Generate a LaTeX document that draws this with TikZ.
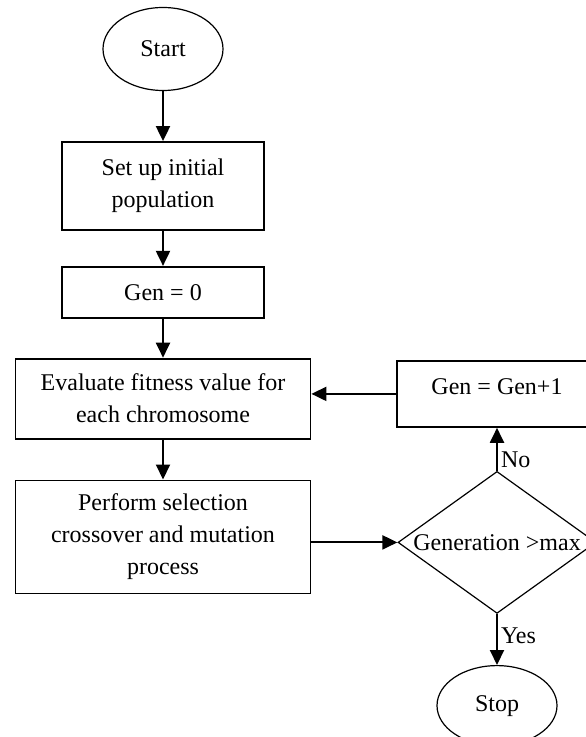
\documentclass[tikz,border=0pt]{standalone}
\usepackage{fontspec}
\setmainfont{Liberation Serif}
\usetikzlibrary{arrows.meta,positioning,shapes.geometric}

\begin{document}
\begin{tikzpicture}[->,>={Triangle[length=7.5pt,width=7pt]},line width=1pt,
  every node/.style={font=\fontsize{12}{16}\selectfont,align=center},
  term node/.style={ellipse,draw,line width=0.6pt,inner sep=0pt,minimum width=60pt,minimum height=41.5pt},
  box node/.style={rectangle,draw,line width=0.9pt,inner sep=0pt,minimum width=101pt},
  dec node/.style={diamond,draw,line width=0.6pt,inner sep=0pt,minimum width=99pt,minimum height=71pt}]

  \useasboundingbox (0,0) rectangle (292.5pt,-368.5pt);

  \node[term node] (start) at (81.5pt,-24.5pt) {Start};
  \node[box node,minimum height=44pt] (init) [below=25pt of start] {Set up initial\\population};
  \node[box node,minimum height=25.5pt] (gen0) [below=17.5pt of init] {Gen = 0};
  \node[box node,minimum width=147.5pt,minimum height=40pt] (eval) [below=19.5pt of gen0] {Evaluate fitness value for\\each chromosome};
  \node[box node,minimum width=147.5pt,minimum height=56.5pt] (perform) [below=20pt of eval] {Perform selection\\crossover and mutation\\process};
  \node[dec node,label=center:{Generation >max}] (dec) [right=43pt of perform,yshift=-2.75pt] {};
  \node[box node,minimum width=100pt,text height=17pt,text depth=16pt] (inc) [above=21.5pt of dec] {Gen = Gen+1};
  \node[term node,minimum height=40pt] (stop) [below=25.5pt of dec] {Stop};

  \path[every node/.style={font=\fontsize{12}{14}\selectfont,inner sep=1.5pt}]
    (start) edge (init)
    (init) edge (gen0)
    (gen0) edge (eval)
    (eval) edge (perform)
    (dec.west -| perform.east) edge (dec.west)
    (dec.north) edge node[right,pos=0.25] {No} (inc.south)
    (inc.west) edge (inc.west -| eval.east)
    (dec.south) edge node[right,pos=0.43] {Yes} (stop.north)
;
\end{tikzpicture}
\end{document}
